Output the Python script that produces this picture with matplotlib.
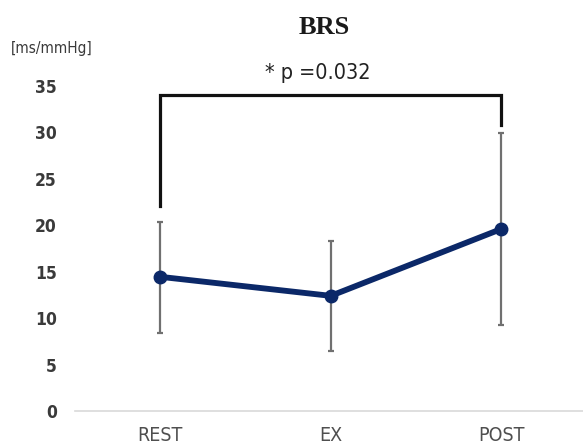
import matplotlib
matplotlib.use('agg')
from matplotlib import pyplot as plt

categories = ['REST', 'EX', 'POST']
means = [14.45, 12.4, 19.6]
upper = [20.3, 18.3, 29.9]
lower = [8.4, 6.5, 9.3]
y_ticks = [0, 5, 10, 15, 20, 25, 30, 35]
bracket_top = 34.0
bracket_left_end = 22.1
bracket_right_end = 30.8
p_label = '* p =0.032'

narrow = ['DejaVu Sans']

fig = plt.figure(figsize=(5.83, 4.48), dpi=100)
fig.patch.set_facecolor('white')
ax = fig.add_axes([75 / 583, 37 / 448, 508 / 583, 325 / 448])

x = list(range(len(categories)))
err_lo = [m - l for m, l in zip(means, lower)]
err_hi = [u - m for m, u in zip(means, upper)]

ax.errorbar(x, means, yerr=[err_lo, err_hi], fmt='none', ecolor='#707070',
            elinewidth=1.6, capsize=2.5, capthick=1.6, zorder=2)
ax.plot(x, means, color='#0b2868', linewidth=4.2, marker='o', markersize=9,
        solid_capstyle='round', zorder=3)

# significance bracket
ax.plot([0, 0, 2, 2], [bracket_left_end, bracket_top, bracket_top, bracket_right_end],
        color='#111111', linewidth=2.3, clip_on=False, solid_joinstyle='miter', zorder=4)

ax.set_xlim(-0.5, -0.5 + 508 / 170.5)
ax.set_ylim(0, 35)
ax.set_xticks(x)
ax.set_xticklabels(categories)
ax.set_yticks(y_ticks)

for side in ['top', 'right', 'left']:
    ax.spines[side].set_visible(False)
ax.spines['bottom'].set_color('#d9d9d9')
ax.spines['bottom'].set_linewidth(1.2)
ax.tick_params(axis='both', length=0)
ax.tick_params(axis='y', pad=13)
ax.tick_params(axis='x', pad=11)

for lbl in ax.get_yticklabels():
    lbl.set_family(narrow)
    lbl.set_stretch('condensed')
    lbl.set_fontsize(12.5)
    lbl.set_fontweight('bold')
    lbl.set_color('#3a3a3a')
for lbl in ax.get_xticklabels():
    lbl.set_family(narrow)
    lbl.set_stretch('condensed')
    lbl.set_fontsize(14)
    lbl.set_color('#4f4f4f')

fig.text(324 / 583, 1 - 28 / 448, 'BRS', ha='center', va='center',
         family='Liberation Serif', fontweight='bold', fontsize=19, color='#1a1a1a')
fig.text(318 / 583, 1 - 73 / 448, p_label, ha='center', va='center',
         family=narrow, stretch='condensed', fontsize=15.5, color='#222222')
fig.text(52 / 583, 1 - 48 / 448, '[ms/mmHg]', ha='center', va='center',
         family=narrow, stretch='condensed', fontsize=11, color='#3a3a3a')

fig.savefig('out.png', dpi=100, facecolor='white')
